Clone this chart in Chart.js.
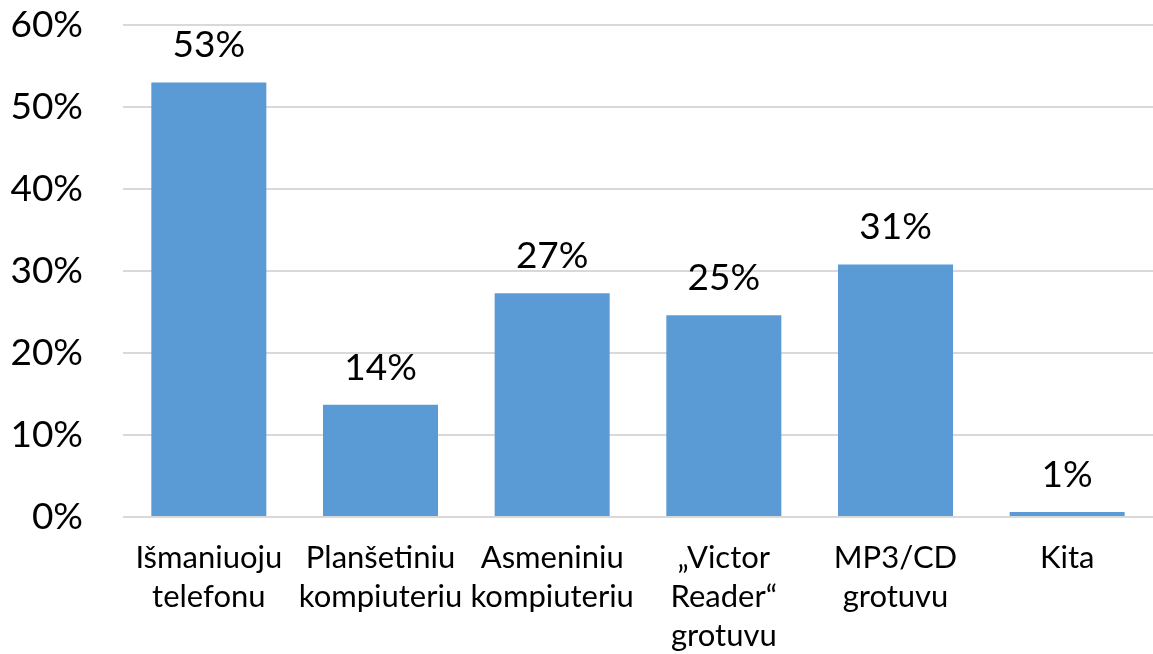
<!DOCTYPE html>
<html>
<head>
<meta charset="utf-8">
<script src="https://cdn.jsdelivr.net/npm/chart.js@4"></script>
<style>
  html, body { margin: 0; padding: 0; background: #fff; }
  #wrap { width: 1153px; height: 654px; }
</style>
</head>
<body>
<div id="wrap"><canvas id="chart"></canvas></div>
<script>
  // 카테고리 / 값 (%)
  const categories = [
    ['Išmaniuoju', 'telefonu'],
    ['Planšetiniu', 'kompiuteriu'],
    ['Asmeniniu', 'kompiuteriu'],
    ['„Victor', 'Reader“', 'grotuvu'],
    ['MP3/CD', 'grotuvu'],
    ['Kita']
  ];
  const values = [53.0, 13.7, 27.3, 24.6, 30.8, 0.6];
  const yTicks = [0, 10, 20, 30, 40, 50, 60];

  const FONT = 'Lato, "Open Sans", sans-serif';

  // 막대 위 값 표시
  const valueLabels = {
    id: 'valueLabels',
    afterDatasetsDraw(chart) {
      const ctx = chart.ctx;
      const meta = chart.getDatasetMeta(0);
      ctx.save();
      ctx.font = '37px ' + FONT;
      ctx.fillStyle = '#000';
      ctx.textAlign = 'center';
      ctx.textBaseline = 'alphabetic';
      meta.data.forEach((bar, i) => {
        ctx.fillText(Math.round(values[i]) + '%', bar.x, bar.y - 25);
      });
      ctx.restore();
    }
  };

  new Chart(document.getElementById('chart'), {
    type: 'bar',
    data: {
      labels: categories,
      datasets: [{
        data: values,
        backgroundColor: '#5b9bd5',
        barPercentage: 0.67,
        categoryPercentage: 1
      }]
    },
    options: {
      responsive: true,
      maintainAspectRatio: false,
      animation: false,
      layout: { padding: { top: 25, right: 0, left: 0, bottom: 0 } },
      plugins: { legend: { display: false }, tooltip: { enabled: false } },
      scales: {
        x: {
          grid: { display: false, drawTicks: false },
          border: { display: false },
          ticks: {
            color: '#000',
            font: { family: FONT, size: 31, lineHeight: 1.27 },
            padding: 21,
            maxRotation: 0,
            autoSkip: false
          },
          afterFit(scale) {
            scale.height = 137;
            scale.paddingLeft = 0;
            scale.paddingRight = 0;
          }
        },
        y: {
          min: 0,
          max: 60,
          afterBuildTicks(scale) { scale.ticks = yTicks.map(v => ({ value: v })); },
          grid: { color: '#d9d9d9', lineWidth: 2, drawTicks: false },
          border: { display: false },
          ticks: {
            color: '#000',
            font: { family: FONT, size: 37 },
            padding: 40,
            callback: v => v + '%'
          },
          afterFit(scale) {
            scale.width = 123;
            scale.paddingTop = 0;
            scale.paddingBottom = 0;
          }
        }
      }
    },
    plugins: [valueLabels]
  });
</script>
</body>
</html>
